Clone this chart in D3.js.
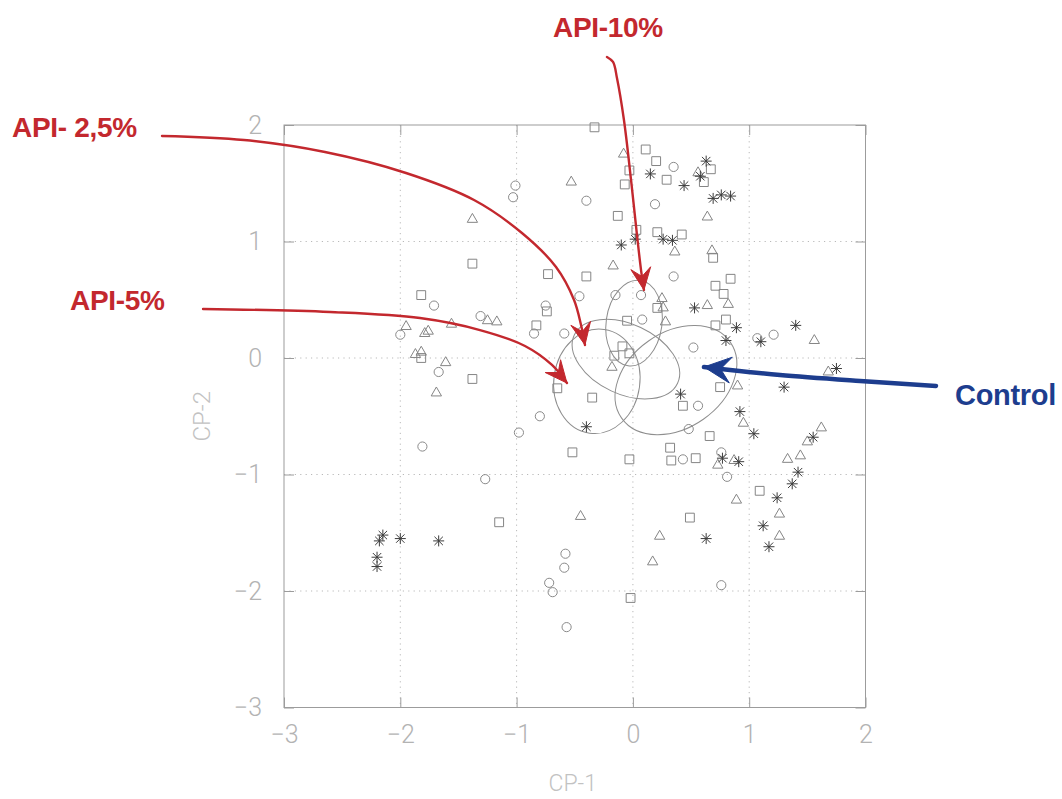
<!DOCTYPE html>
<html>
<head>
<meta charset="utf-8">
<script src="https://cdn.jsdelivr.net/npm/d3@7"></script>
<style>
  html, body { margin: 0; padding: 0; background: #ffffff; }
  svg { display: block; }
</style>
</head>
<body>
<svg id="chart" width="1062" height="799"></svg>
<script>
// Principal-component scores (CP-1, CP-2), one array per marker type
const circles = [
  [-1.01, 1.48], [-1.03, 1.38], [-0.40, 1.35], [0.35, 1.64], [0.19, 1.32], [0.35, 0.70],
  [-0.15, 0.54], [0.07, 0.54], [-0.46, 0.53], [-0.75, 0.45], [0.08, 0.33], [-0.85, 0.21],
  [-0.59, 0.21], [0.52, 0.09], [0.56, -0.41], [-0.80, -0.50], [0.48, -0.61], [0.43, -0.87],
  [-1.71, 0.45], [-1.31, 0.36], [-2.00, 0.20], [-1.67, -0.12], [-0.98, -0.64], [-1.81, -0.76],
  [1.21, 0.20], [1.07, 0.17], [0.76, -0.81], [0.81, -1.02], [0.76, -1.95], [-1.27, -1.04],
  [-0.58, -1.68], [-0.59, -1.80], [-0.72, -1.93], [-0.69, -2.01], [-0.57, -2.31]
];
const squares = [
  [-0.33, 1.98], [0.11, 1.79], [0.20, 1.69], [-0.03, 1.61], [0.29, 1.53], [-0.07, 1.49],
  [-0.13, 1.22], [0.03, 1.10], [0.21, 1.08], [0.42, 1.06], [-0.73, 0.72], [-0.40, 0.70],
  [0.67, 1.62], [0.61, 1.51], [0.69, 0.86], [0.84, 0.68], [0.71, 0.62], [0.78, 0.55],
  [-1.38, 0.81], [-1.82, 0.54], [-0.74, 0.40], [0.21, 0.43], [-0.05, 0.32], [-0.83, 0.28],
  [-0.09, 0.10], [-0.03, 0.04], [-0.16, 0.02], [-0.65, -0.26], [-0.35, -0.34], [0.43, -0.41],
  [-0.52, -0.81], [-0.03, -0.87], [0.32, -0.77], [0.33, -0.88], [0.54, -0.86], [-1.82, 0.00],
  [-1.38, -0.18], [0.80, 0.33], [0.71, 0.28], [0.75, -0.25], [0.66, -0.67], [1.09, -1.14],
  [0.49, -1.37], [-1.15, -1.41], [-0.02, -2.06]
];
const triangles = [
  [-0.08, 1.75], [0.56, 1.59], [-0.53, 1.51], [0.36, 0.91], [-0.17, 0.79], [-1.38, 1.19],
  [0.64, 1.21], [0.68, 0.92], [0.25, 0.51], [0.26, 0.43], [0.28, 0.31], [-0.18, -0.08],
  [-1.25, 0.32], [-1.17, 0.31], [-1.95, 0.27], [-1.79, 0.21], [-1.76, 0.23], [-1.56, 0.29],
  [-1.87, 0.03], [-1.82, 0.05], [-1.61, -0.04], [-1.69, -0.30], [0.82, 0.46], [0.64, 0.45],
  [1.56, 0.15], [1.68, -0.12], [0.90, -0.24], [0.95, -0.56], [1.62, -0.60], [1.50, -0.72],
  [1.33, -0.87], [1.44, -0.84], [0.87, -0.88], [0.73, -0.92], [0.89, -1.22], [1.26, -1.34],
  [1.26, -1.53], [-0.45, -1.36], [0.23, -1.53], [0.17, -1.75]
];
const stars = [
  [0.15, 1.58], [0.44, 1.48], [0.02, 1.02], [0.26, 1.02], [0.34, 1.01], [-0.10, 0.97],
  [0.63, 1.69], [0.58, 1.56], [0.69, 1.37], [0.76, 1.40], [0.84, 1.39], [0.53, 0.43],
  [0.41, -0.31], [-0.40, -0.59], [0.89, 0.26], [1.40, 0.28], [1.10, 0.14], [0.80, 0.15],
  [1.75, -0.09], [1.30, -0.25], [0.92, -0.46], [1.04, -0.65], [1.55, -0.68], [1.42, -0.98],
  [0.77, -0.86], [0.91, -0.89], [1.37, -1.08], [1.24, -1.20], [1.12, -1.44], [0.63, -1.55],
  [1.17, -1.62], [-2.15, -1.52], [-2.18, -1.57], [-2.00, -1.55], [-1.67, -1.57],
  [-2.20, -1.71], [-2.20, -1.79]
];

// Group ellipses: centre, semi-axes (data units) and tilt (degrees, clockwise)
const ellipseGroups = ["API-10%", "API- 2,5%", "API-5%", "Control"];
const ellipseCx = [0.01, -0.06, -0.31, 0.37];
const ellipseCy = [0.30, -0.01, -0.20, -0.19];
const ellipseRx = [0.24, 0.49, 0.37, 0.57];
const ellipseRy = [0.37, 0.30, 0.45, 0.41];
const ellipseTilt = [8, 25, 8, -35];

// Axis ticks
const xTicks = [-3, -2, -1, 0, 1, 2];
const yTicks = [-3, -2, -1, 0, 1, 2];
const gridValues = [-2, -1, 0, 1];

// Annotation arrows, traced in data units (they run outside the frame)
const arrow25 = [[-4.049, 1.906], [-3.344, 1.871], [-2.648, 1.768], [-1.951, 1.588], [-1.366, 1.356],
                 [-0.954, 1.073], [-0.661, 0.781], [-0.506, 0.498], [-0.446, 0.283], [-0.412, 0.112]];
const arrow5 = [[-3.696, 0.421], [-2.604, 0.395], [-1.831, 0.343], [-1.315, 0.240], [-0.928, 0.103],
                [-0.696, -0.060], [-0.567, -0.215]];
const arrow10 = [[-0.223, 2.584], [-0.171, 2.541], [-0.137, 2.403], [-0.077, 2.043], [-0.016, 1.528],
                 [0.035, 1.056], [0.070, 0.755], [0.095, 0.584]];
const arrowControl = [[2.606, -0.240], [1.953, -0.197], [1.265, -0.146], [0.835, -0.103], [0.611, -0.077]];

const svg = d3.select("#chart");
const plotL = 284, plotR = 865.5, plotT = 125, plotB = 707.5;

const x = d3.scaleLinear().domain([-3, 2]).range([plotL, plotR]);
const y = d3.scaleLinear().domain([-3, 2]).range([plotB, plotT]);

const frameColor = "#9c9c9c";
const tickFont = "Roboto, 'Liberation Sans', sans-serif";

// Dotted grid
const grid = svg.append("g").attr("stroke", "#b9b9b9").attr("stroke-width", 1)
  .attr("stroke-dasharray", "1.2,4.2");
grid.selectAll("line.v").data(gridValues).join("line").attr("class", "v")
  .attr("x1", d => x(d)).attr("x2", d => x(d)).attr("y1", plotT).attr("y2", plotB);
grid.selectAll("line.h").data(gridValues).join("line").attr("class", "h")
  .attr("y1", d => y(d)).attr("y2", d => y(d)).attr("x1", plotL).attr("x2", plotR);

// Axes with inward ticks on all four sides
function styleAxis(g, showLabels) {
  g.select(".domain").remove();
  g.selectAll(".tick line").attr("stroke", frameColor);
  g.selectAll(".tick text")
    .attr("fill", "#b3b3b3")
    .style("font-family", tickFont)
    .style("font-weight", 300)
    .style("font-size", "25px")
    .style("display", showLabels ? null : "none");
}
const fmt = d3.format("d");
svg.append("g").attr("transform", `translate(0,${plotB})`)
  .call(d3.axisBottom(x).tickValues(xTicks).tickSize(-10).tickPadding(18).tickFormat(fmt))
  .call(g => styleAxis(g, true));
svg.append("g").attr("transform", `translate(${plotL},0)`)
  .call(d3.axisLeft(y).tickValues(yTicks).tickSize(-10).tickPadding(22).tickFormat(fmt))
  .call(g => styleAxis(g, true));
svg.append("g").attr("transform", `translate(0,${plotT})`)
  .call(d3.axisTop(x).tickValues(xTicks).tickSize(-10).tickFormat(fmt))
  .call(g => styleAxis(g, false));
svg.append("g").attr("transform", `translate(${plotR},0)`)
  .call(d3.axisRight(y).tickValues(yTicks).tickSize(-10).tickFormat(fmt))
  .call(g => styleAxis(g, false));

// Frame
svg.append("rect").attr("x", plotL).attr("y", plotT)
  .attr("width", plotR - plotL).attr("height", plotB - plotT)
  .attr("fill", "none").attr("stroke", frameColor).attr("stroke-width", 1);

// Axis titles
svg.append("text").attr("x", (plotL + plotR) / 2 - 2).attr("y", 791)
  .attr("text-anchor", "middle").attr("fill", "#c2c2c2")
  .style("font-family", tickFont).style("font-weight", 300).style("font-size", "23px")
  .text("CP-1");
svg.append("text")
  .attr("transform", `translate(210,${(plotT + plotB) / 2}) rotate(-90)`)
  .attr("text-anchor", "middle").attr("fill", "#c2c2c2")
  .style("font-family", tickFont).style("font-weight", 300).style("font-size", "24px")
  .text("CP-2");

// Ellipses
const ell = svg.append("g").attr("fill", "none").attr("stroke", "#8e8e8e").attr("stroke-width", 1);
ellipseGroups.forEach((name, i) => {
  const cx = x(ellipseCx[i]), cy = y(ellipseCy[i]);
  ell.append("ellipse")
    .attr("cx", cx).attr("cy", cy)
    .attr("rx", x(ellipseCx[i] + ellipseRx[i]) - cx)
    .attr("ry", cy - y(ellipseCy[i] + ellipseRy[i]))
    .attr("transform", `rotate(${ellipseTilt[i]},${cx},${cy})`);
});

// Point markers
const pts = svg.append("g");
const circleSym = d3.symbol().type(d3.symbolCircle).size(66);
const squareSym = d3.symbol().type(d3.symbolSquare).size(78);
const triSym = d3.symbol().type(d3.symbolTriangle).size(46);

pts.selectAll("path.c").data(circles).join("path").attr("class", "c")
  .attr("d", circleSym).attr("transform", d => `translate(${x(d[0])},${y(d[1])})`)
  .attr("fill", "none").attr("stroke", "#8a8a8a").attr("stroke-width", 1);
pts.selectAll("path.s").data(squares).join("path").attr("class", "s")
  .attr("d", squareSym).attr("transform", d => `translate(${x(d[0])},${y(d[1])})`)
  .attr("fill", "none").attr("stroke", "#858585").attr("stroke-width", 1);
pts.selectAll("path.t").data(triangles).join("path").attr("class", "t")
  .attr("d", triSym).attr("transform", d => `translate(${x(d[0])},${y(d[1])})`)
  .attr("fill", "none").attr("stroke", "#858585").attr("stroke-width", 1);
// eight-armed asterisk
const armA = 5.5, armB = 4.2;
const starPath = `M${-armA},0H${armA}M0,${-armA}V${armA}M${-armB},${-armB}L${armB},${armB}M${-armB},${armB}L${armB},${-armB}`;
pts.selectAll("path.a").data(stars).join("path").attr("class", "a")
  .attr("d", starPath).attr("transform", d => `translate(${x(d[0])},${y(d[1])})`)
  .attr("fill", "none").attr("stroke", "#3c3c3c").attr("stroke-width", 1);

// Annotation arrows
const red = "#c3282e", blue = "#1d3d8e";
const curve = d3.line().x(d => x(d[0])).y(d => y(d[1])).curve(d3.curveCatmullRom.alpha(0.5));

function drawArrow(points, color, width, headLen, headHalf) {
  svg.append("path").attr("d", curve(points))
    .attr("fill", "none").attr("stroke", color).attr("stroke-width", width)
    .attr("stroke-linecap", "round");
  const p1 = points[points.length - 2], p2 = points[points.length - 1];
  const tx = x(p2[0]), ty = y(p2[1]);
  const dx = tx - x(p1[0]), dy = ty - y(p1[1]);
  const len = Math.hypot(dx, dy), ux = dx / len, uy = dy / len;
  const px = -uy, py = ux;
  const bx = tx - ux * headLen, by = ty - uy * headLen;
  const nx = tx - ux * headLen * 0.62, ny = ty - uy * headLen * 0.62;
  svg.append("path")
    .attr("d", `M${tx},${ty}L${bx + px * headHalf},${by + py * headHalf}L${nx},${ny}L${bx - px * headHalf},${by - py * headHalf}Z`)
    .attr("fill", color).attr("stroke", color).attr("stroke-width", 1).attr("stroke-linejoin", "round");
}
drawArrow(arrow25, red, 2.4, 22, 10);
drawArrow(arrow5, red, 2.4, 22, 10);
drawArrow(arrow10, red, 2.4, 22, 10);
drawArrow(arrowControl, blue, 4.5, 27, 13);

// Annotation labels
const labelFont = "'Liberation Sans', Arial, sans-serif";
function label(txt, px, py, color, size) {
  svg.append("text").attr("x", px).attr("y", py)
    .attr("fill", color)
    .style("font-family", labelFont).style("font-weight", 700).style("font-size", size + "px")
    .style("letter-spacing", "-0.3px")
    .text(txt);
}
label("API-10%", 553, 37, red, 28);
label("API- 2,5%", 12, 137, red, 28);
label("API-5%", 70, 310, red, 28);
label("Control", 955, 405, blue, 29);
</script>
</body>
</html>
